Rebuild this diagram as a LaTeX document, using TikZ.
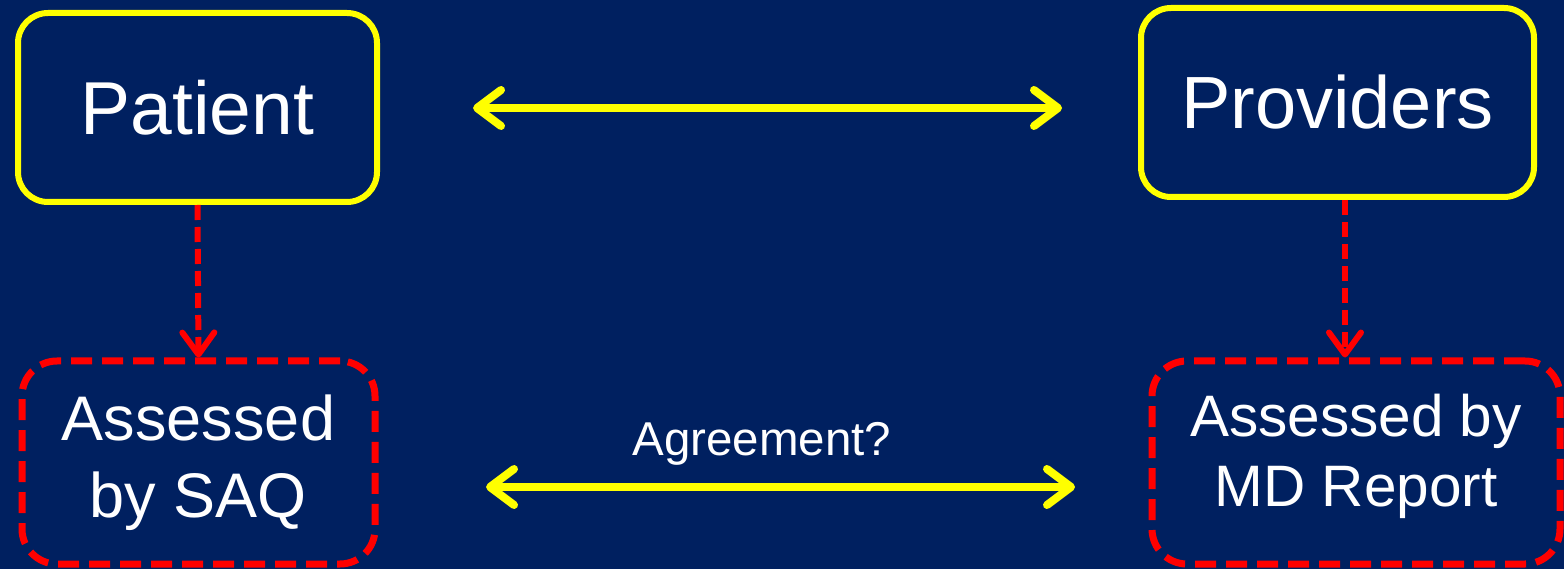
\documentclass[tikz,border=0pt]{standalone}
\usepackage{fontspec}
\setmainfont{Liberation Sans}
\usetikzlibrary{arrows.meta}
\definecolor{navy}{HTML}{002060}
\definecolor{yel}{HTML}{FFFF00}
\definecolor{rd}{HTML}{FF0000}
\begin{document}
\begin{tikzpicture}[x=1pt,y=-1pt,
  topbox/.style={draw=yel, line width=6pt, fill=navy, rounded corners=30pt,
    text=white, inner sep=0pt, minimum height=189pt},
  botbox/.style={draw=rd, line width=7pt, dash pattern=on 21pt off 10pt,
    fill=navy, rounded corners=35pt, text=white, inner sep=0pt,
    minimum height=203pt, align=center},
  yarrow/.style={draw=yel, line width=8pt,
    {Straight Barb[length=24pt,width=36pt,round]}-{Straight Barb[length=24pt,width=36pt,round]}},
  rarrow/.style={draw=rd, line width=6pt, dash pattern=on 15pt off 7pt,
    -{Straight Barb[length=22pt,width=32pt,round]}}
]
\fill[navy] (0,0) rectangle (1564,569);
\useasboundingbox (0,0) rectangle (1564,569);

\node[topbox, minimum width=359pt, font=\fontsize{75}{90}\selectfont] (pat) at (197.5,107.5) {Patient};
\node[topbox, minimum width=393pt, font=\fontsize{74}{90}\selectfont] (prov) at (1337.5,102.5) {Providers};

\node[botbox, minimum width=353pt, font=\fontsize{63}{77}\selectfont] (saq) at (198.5,462.5) {Assessed\\by SAQ};
\node[botbox, minimum width=408pt, text depth=24pt, font=\fontsize{58.5}{70}\selectfont] (md) at (1356,462.5) {Assessed by\\MD Report};

\coordinate (t1) at (473,108);
\coordinate (t2) at (1062,108);
\coordinate (b1) at (486,487);
\coordinate (b2) at (1075,487);

\draw[yarrow] (t1) -- (t2);
\draw[yarrow] (b1) -- (b2);

\node[text=white, anchor=base, font=\fontsize{47.5}{57}\selectfont] (agr) at (762,455) {Agreement?};

\draw[rarrow] (pat.south) -- (saq.north);
\draw[rarrow] ([xshift=7.5pt]prov.south) -- ([xshift=-11pt]md.north);
\end{tikzpicture}
\end{document}
